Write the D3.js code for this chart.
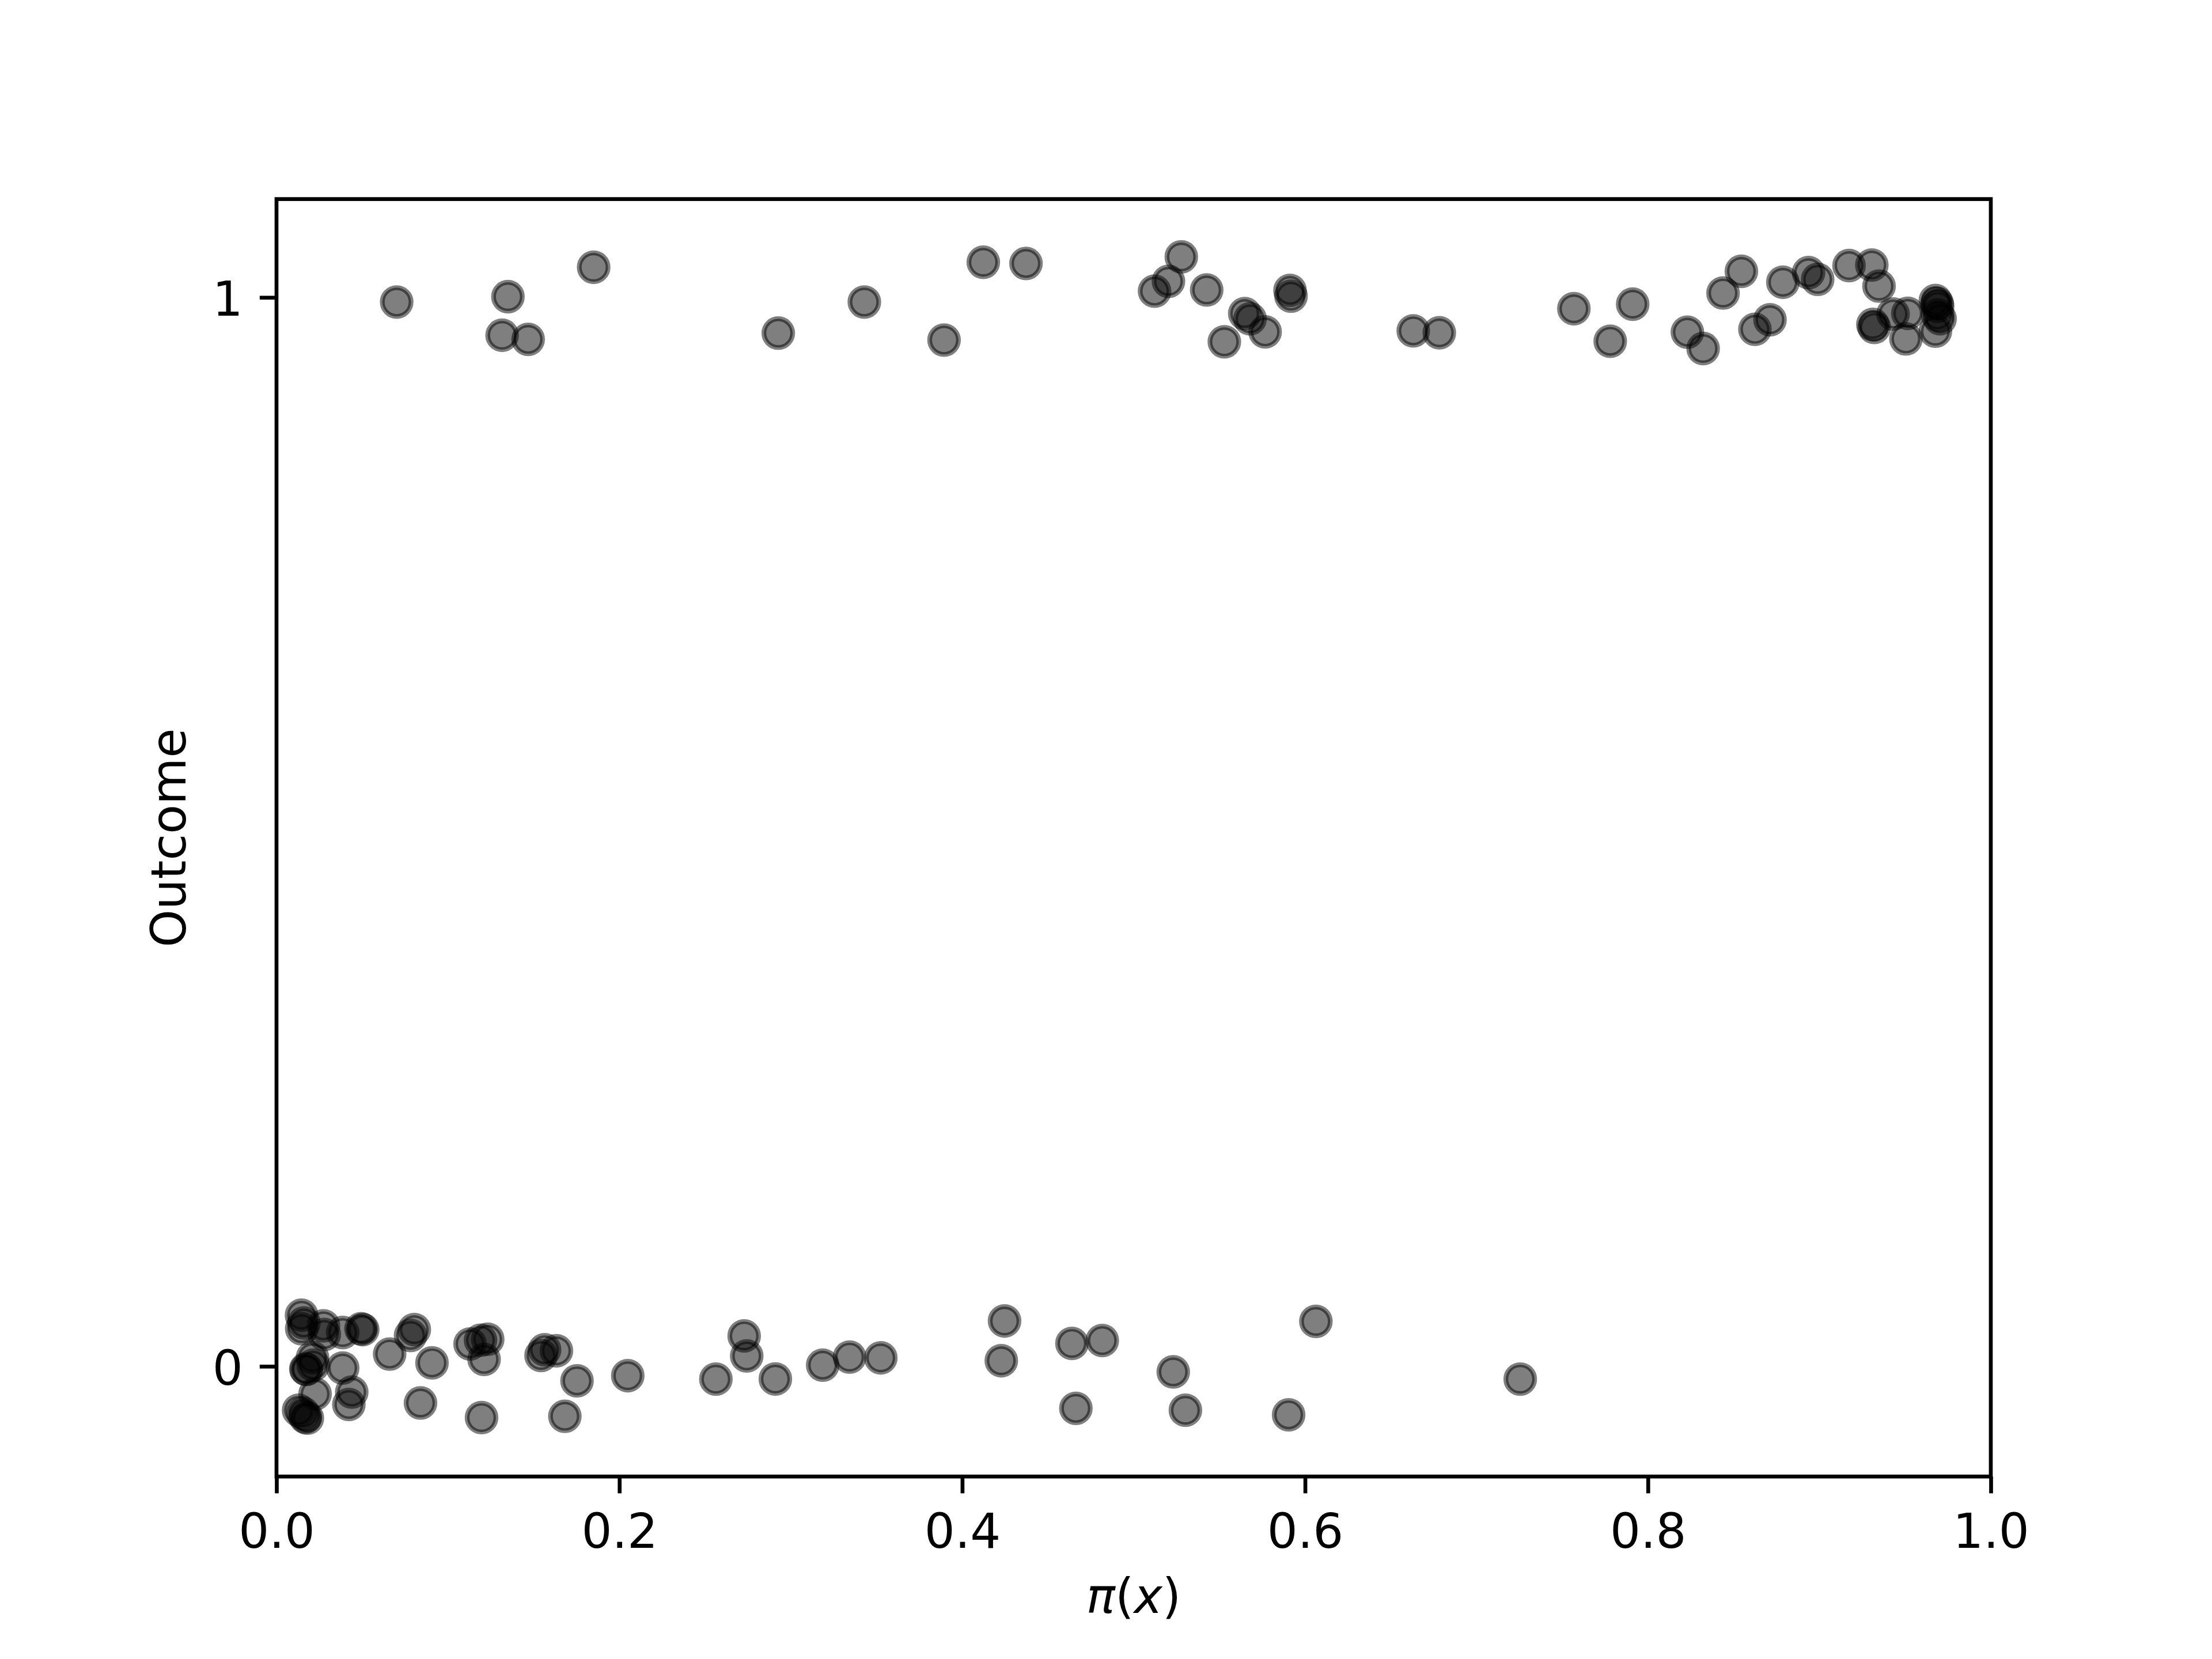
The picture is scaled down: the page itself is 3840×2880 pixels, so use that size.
<!DOCTYPE html>
<html>
<head>
<meta charset="utf-8">
<script src="https://cdn.jsdelivr.net/npm/d3@7/dist/d3.min.js"></script>
<style>
  html, body { margin: 0; padding: 0; background: #fff; }
  svg { display: block; }
</style>
</head>
<body>
<svg id="scatter"></svg>
<script>
// jittered outcome vs predicted probability

// outcome = 1
var piOne = [0.0701, 0.135, 0.185, 0.1316, 0.1468, 0.2927, 0.3429, 0.3894, 0.4123, 0.4372,
             0.5122, 0.5203, 0.5278, 0.5426, 0.5529, 0.5648, 0.5679, 0.5767, 0.5912, 0.5918,
             0.6631, 0.6783, 0.7568, 0.778, 0.7911, 0.823, 0.8322, 0.8438, 0.8545, 0.8624,
             0.8712, 0.8787, 0.8937, 0.899, 0.9173, 0.9306, 0.9348, 0.9312, 0.932, 0.943,
             0.9516, 0.9505, 0.9677, 0.9687, 0.969, 0.9704, 0.9677, 0.969];
var jitterOne = [0.9957, 1.0007, 1.0282, 0.9646, 0.9608, 0.9666, 0.9957, 0.9601, 1.0329, 1.0318,
                 1.0059, 1.0151, 1.0379, 1.007, 0.9585, 0.9849, 0.98, 0.9678, 1.0066, 1.0012,
                 0.9687, 0.9669, 0.9894, 0.959, 0.9937, 0.9675, 0.9522, 1.0041, 1.0244, 0.9702,
                 0.9791, 1.0142, 1.0232, 1.0169, 1.0298, 1.0303, 1.0106, 0.9747, 0.972, 0.9845,
                 0.9851, 0.9612, 0.9971, 0.9944, 0.9917, 0.98, 0.9684, 0.9836];

// outcome = 0
var piZero = [0.0146, 0.016, 0.0147, 0.0274, 0.0279, 0.0386, 0.0493, 0.0503, 0.066, 0.0804,
              0.0782, 0.0907, 0.1129, 0.119, 0.1232, 0.1211, 0.1543, 0.1564, 0.1633, 0.1753,
              0.2049, 0.2563, 0.2728, 0.2743, 0.291, 0.3186, 0.3343, 0.0171, 0.0214, 0.0386,
              0.0225, 0.0439, 0.0422, 0.0129, 0.0155, 0.018, 0.0168, 0.084, 0.1196, 0.1682,
              0.021, 0.0175, 0.3525, 0.4247, 0.4228, 0.464, 0.4817, 0.4663, 0.5231, 0.5302,
              0.5904, 0.6063, 0.7255];
var jitterZero = [0.0478, 0.0406, 0.0352, 0.0379, 0.0298, 0.0316, 0.0352, 0.0343, 0.0115, 0.0343,
                  0.0289, 0.0032, 0.0209, 0.0244, 0.0253, 0.0065, 0.0101, 0.0155, 0.0145, -0.0136,
                  -0.0088, -0.012, 0.0284, 0.0097, -0.0119, 0.0011, 0.0086, -0.0025, 0.0011, -0.0016,
                  -0.0259, -0.0241, -0.0357, -0.0411, -0.0438, -0.0485, -0.0475, -0.0343, -0.048, -0.0467,
                  0.0082, -0.003, 0.0079, 0.0424, 0.0052, 0.0214, 0.0241, -0.0393, -0.0052, -0.0411,
                  -0.0454, 0.042, -0.012];

var xTicks = [0, 0.2, 0.4, 0.6, 0.8, 1.0];
var yTicks = [0, 1];
var xDomain = [0, 1];
var yDomain = [-0.1031, 1.092];

var W = 3840, H = 2880;
var margin = {top: 345.6, right: 384, bottom: 316.8, left: 480},
	width = W - margin.left - margin.right,
	height = H - margin.top - margin.bottom;

var pt = 600 / 72; // figure drawn at 600 dpi
var fontSize = 10 * pt;

var points = piOne.map(function(p, i) { return {x: p, y: jitterOne[i]}; })
	.concat(piZero.map(function(p, i) { return {x: p, y: jitterZero[i]}; }));

var xscale = d3.scaleLinear().domain(xDomain).range([0, width]);
var yscale = d3.scaleLinear().domain(yDomain).range([height, 0]);

var svg = d3.select("#scatter")
	.attr("width", W)
	.attr("height", H)
	.style("font-family", "'DejaVu Sans', sans-serif");

svg.append("rect").attr("width", W).attr("height", H).attr("fill", "#fff");

var g = svg.append("g")
	.attr("transform", "translate(" + margin.left + "," + margin.top + ")");

// points
g.append("g")
	.selectAll("circle")
	.data(points)
	.enter().append("circle")
	.attr("cx", function(d) { return xscale(d.x); })
	.attr("cy", function(d) { return yscale(d.y); })
	.attr("r", 3 * pt)
	.attr("fill", "#000")
	.attr("fill-opacity", 0.5)
	.attr("stroke", "#000")
	.attr("stroke-opacity", 0.5)
	.attr("stroke-width", 1 * pt);

var tickLen = 3.5 * pt, tickPad = 3.5 * pt, lw = 0.8 * pt;

var xaxis = d3.axisBottom(xscale)
	.tickValues(xTicks)
	.tickFormat(d3.format(".1f"))
	.tickSize(tickLen)
	.tickPadding(tickPad);

var yaxis = d3.axisLeft(yscale)
	.tickValues(yTicks)
	.tickFormat(d3.format("d"))
	.tickSize(tickLen)
	.tickPadding(tickPad);

var gx = g.append("g")
	.attr("transform", "translate(0," + height + ")")
	.call(xaxis);
gx.select(".domain").remove();
gx.selectAll("line").attr("stroke", "#000").attr("stroke-width", lw);
gx.selectAll("text")
	.attr("dy", "0.78em")
	.attr("fill", "#000")
	.style("font-size", fontSize + "px")
	.style("font-family", "'DejaVu Sans', sans-serif");

var gy = g.append("g").call(yaxis);
gy.select(".domain").remove();
gy.selectAll("line").attr("stroke", "#000").attr("stroke-width", lw);
gy.selectAll("text")
	.attr("dy", "0.38em")
	.attr("fill", "#000")
	.style("font-size", fontSize + "px")
	.style("font-family", "'DejaVu Sans', sans-serif");

// spines
g.append("rect")
	.attr("width", width)
	.attr("height", height)
	.attr("fill", "none")
	.attr("stroke", "#000")
	.attr("stroke-width", lw);

// axis labels
var xlabel = g.append("text")
	.attr("x", width / 2)
	.attr("y", 2800 - margin.top)
	.attr("text-anchor", "middle")
	.style("font-size", fontSize + "px")
	.attr("fill", "#000");
xlabel.append("tspan").style("font-style", "italic").text("π");
xlabel.append("tspan").text("(");
xlabel.append("tspan").style("font-style", "italic").text("x");
xlabel.append("tspan").text(")");

g.append("text")
	.attr("transform", "translate(" + (322 - margin.left) + "," + (height / 2) + ") rotate(-90)")
	.attr("text-anchor", "middle")
	.style("font-size", fontSize + "px")
	.attr("fill", "#000")
	.text("Outcome");
</script>
</body>
</html>
